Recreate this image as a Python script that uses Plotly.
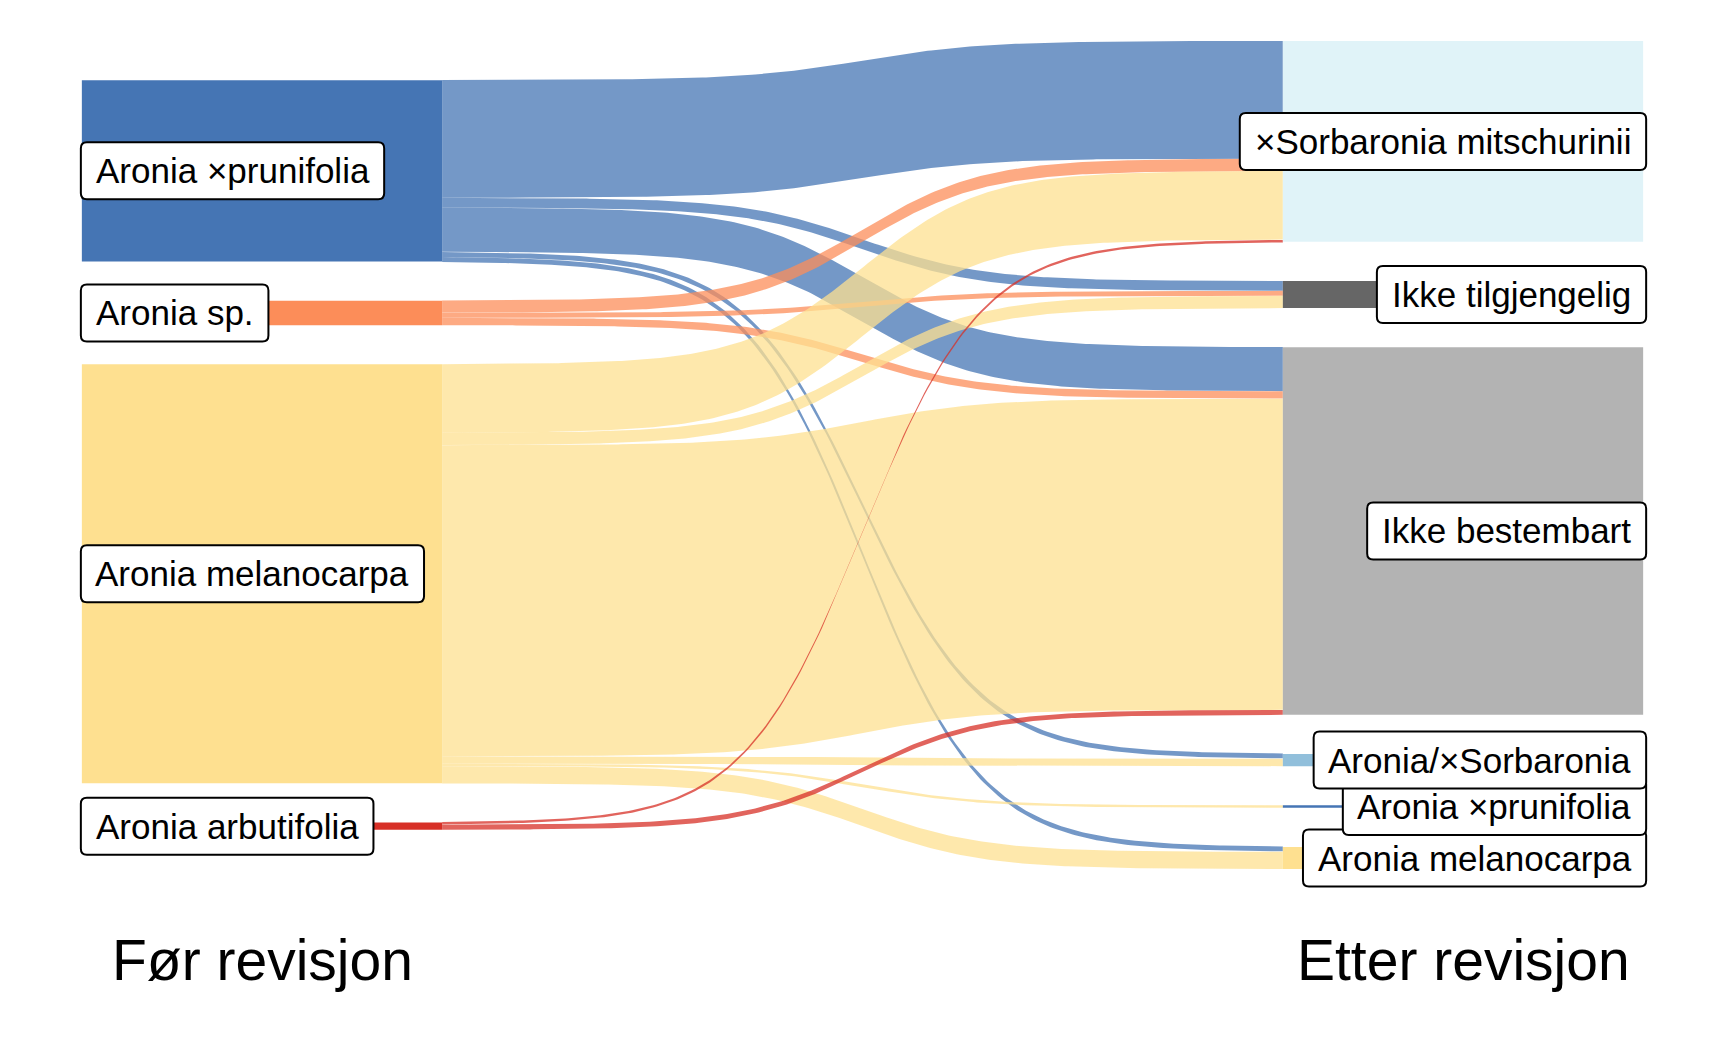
import numpy as np
import plotly.graph_objects as go

# ---------------- data ----------------
before_levels = ["Aronia ×prunifolia", "Aronia sp.", "Aronia melanocarpa", "Aronia arbutifolia"]
after_levels = ["×Sorbaronia mitschurinii", "Ikke tilgjengelig", "Ikke bestembart",
                "Aronia/×Sorbaronia", "Aronia ×prunifolia", "Aronia melanocarpa"]
before_colors = ["#4575b4", "#fc8d59", "#fee090", "#d73027"]
after_colors = ["#e0f3f8", "#666666", "#b3b3b3", "#91bfdb", "#4575b4", "#fee090"]

flow_from = ["Aronia ×prunifolia"] * 5 + ["Aronia sp."] * 3 + ["Aronia melanocarpa"] * 6 + ["Aronia arbutifolia"] * 2
flow_to = ["×Sorbaronia mitschurinii", "Ikke tilgjengelig", "Ikke bestembart", "Aronia/×Sorbaronia", "Aronia melanocarpa",
           "×Sorbaronia mitschurinii", "Ikke tilgjengelig", "Ikke bestembart",
           "×Sorbaronia mitschurinii", "Ikke tilgjengelig", "Ikke bestembart", "Aronia/×Sorbaronia", "Aronia ×prunifolia", "Aronia melanocarpa",
           "×Sorbaronia mitschurinii", "Ikke bestembart"]
flow_n = [48, 4, 18, 2, 2,
          5, 2, 3,
          28, 5, 127, 3, 1, 7,
          1, 2]

axis_labels = ["Før revisjon", "Etter revisjon"]

# ---------------- layout constants ----------------
PAGE_OFFSET = 8          # default body margin of the html page
W_PX, H_PX = 1712 - PAGE_OFFSET, 1062 - PAGE_OFFSET
PX_PER_COUNT = 2.45
PX_PER_X = 1201.0
X_CENTER_PX = 262.0 - PAGE_OFFSET
Y_CENTER_PX = 455.0 - PAGE_OFFSET
AXIS_LABEL_PX = 960.0 - PAGE_OFFSET
GAP = 16.0
NODE_W = 0.30
SMOOTH = 7
FLOW_ALPHA = 0.75
FONT = "Liberation Sans, Arial, sans-serif"
LABEL_SIZE = 35
AXIS_SIZE = 57

x_range = [1 - X_CENTER_PX / PX_PER_X, 1 + (W_PX - X_CENTER_PX) / PX_PER_X]
y_range = [-(H_PX - Y_CENTER_PX) / PX_PER_COUNT, Y_CENTER_PX / PX_PER_COUNT]


def hex_rgba(h, a):
    h = h.lstrip("#")
    return "rgba(%d,%d,%d,%.3f)" % (int(h[0:2], 16), int(h[2:4], 16), int(h[4:6], 16), a)


def stack(levels, totals):
    T = sum(totals[k] for k in levels) + GAP * (len(levels) - 1)
    top = T / 2.0
    pos = {}
    for lev in levels:
        hi = top
        lo = top - totals[lev]
        pos[lev] = [hi, lo]
        top = lo - GAP
    return pos


bi = {k: i for i, k in enumerate(before_levels)}
ai = {k: i for i, k in enumerate(after_levels)}
tot_b = {k: 0 for k in before_levels}
tot_a = {k: 0 for k in after_levels}
for f, t, n in zip(flow_from, flow_to, flow_n):
    tot_b[f] += n
    tot_a[t] += n
pos_b = stack(before_levels, tot_b)
pos_a = stack(after_levels, tot_a)

idx = list(range(len(flow_n)))
src_int = {}
cur = {k: pos_b[k][0] for k in before_levels}
for i in sorted(idx, key=lambda i: (bi[flow_from[i]], ai[flow_to[i]])):
    hi = cur[flow_from[i]]
    src_int[i] = (hi, hi - flow_n[i])
    cur[flow_from[i]] = hi - flow_n[i]
dst_int = {}
cur = {k: pos_a[k][0] for k in after_levels}
for i in sorted(idx, key=lambda i: (ai[flow_to[i]], bi[flow_from[i]])):
    hi = cur[flow_to[i]]
    dst_int[i] = (hi, hi - flow_n[i])
    cur[flow_to[i]] = hi - flow_n[i]

s = np.linspace(-SMOOTH, SMOOTH, 240)
frac_x = (s + SMOOTH) / (2 * SMOOTH)
frac_y = np.exp(s) / (np.exp(s) + 1)
x_from = 1 + NODE_W / 2
x_to = 2 - NODE_W / 2
xs = x_from + frac_x * (x_to - x_from)

fig = go.Figure()

for i in sorted(idx, key=lambda i: (bi[flow_from[i]], ai[flow_to[i]])):
    (s_hi, s_lo), (d_hi, d_lo) = src_int[i], dst_int[i]
    top = s_hi + frac_y * (d_hi - s_hi)
    bot = s_lo + frac_y * (d_lo - s_lo)
    fig.add_trace(go.Scatter(
        x=np.concatenate([xs, xs[::-1]]),
        y=np.concatenate([top, bot[::-1]]),
        fill="toself", mode="lines", line=dict(width=0),
        fillcolor=hex_rgba(before_colors[bi[flow_from[i]]], FLOW_ALPHA),
        hoverinfo="skip", showlegend=False))

shapes = []
for lev, col in zip(before_levels, before_colors):
    hi, lo = pos_b[lev]
    shapes.append(dict(type="rect", xref="x", yref="y", x0=1 - NODE_W / 2, x1=1 + NODE_W / 2,
                       y0=lo, y1=hi, fillcolor=col, line=dict(width=0), layer="above"))
for lev, col in zip(after_levels, after_colors):
    hi, lo = pos_a[lev]
    shapes.append(dict(type="rect", xref="x", yref="y", x0=2 - NODE_W / 2, x1=2 + NODE_W / 2,
                       y0=lo, y1=hi, fillcolor=col, line=dict(width=0), layer="above"))

# Arial / Liberation Sans advance widths (per 1 em)
CW = {"A": .667, "E": .667, "F": .611, "I": .278, "S": .667, "a": .556, "b": .556, "c": .5,
      "e": .556, "f": .278, "g": .556, "h": .556, "i": .222, "j": .222, "k": .5, "l": .222,
      "m": .833, "n": .556, "o": .556, "p": .556, "r": .333, "s": .5, "t": .278, "u": .556,
      "v": .5, " ": .278, ".": .278, "/": .278, "×": .584, "ø": .611}


def text_w(t, size):
    return sum(CW.get(c, .556) for c in t) * size


def rrect(hw, hh, r):
    return ("M %f,%f L %f,%f Q %f,%f %f,%f L %f,%f Q %f,%f %f,%f L %f,%f Q %f,%f %f,%f "
            "L %f,%f Q %f,%f %f,%f Z" % (
                -hw + r, -hh, hw - r, -hh, hw, -hh, hw, -hh + r,
                hw, hh - r, hw, hh, hw - r, hh,
                -hw + r, hh, -hw, hh, -hw, hh - r,
                -hw, -hh + r, -hw, -hh, -hw + r, -hh))


PAD_X = 15
BOX_H = 57
annotations = []
label_items = []
for lev in before_levels:
    hi, lo = pos_b[lev]
    bw = text_w(lev, LABEL_SIZE) + 2 * PAD_X
    cx = (1 - NODE_W / 2) + (bw / 2 - 1) / PX_PER_X
    label_items.append((lev, cx, (hi + lo) / 2, bw))
for lev in after_levels:
    hi, lo = pos_a[lev]
    bw = text_w(lev, LABEL_SIZE) + 2 * PAD_X
    cx = (2 + NODE_W / 2) + (3 - bw / 2) / PX_PER_X
    label_items.append((lev, cx, (hi + lo) / 2, bw))

# draw lower labels first so upper boxes sit on top
for lev, cx, cy, bw in sorted(label_items, key=lambda t: t[2]):
    shapes.append(dict(type="path", xref="x", yref="y", xsizemode="pixel", ysizemode="pixel",
                       xanchor=cx, yanchor=cy, path=rrect(bw / 2, BOX_H / 2, 6),
                       fillcolor="white", line=dict(color="black", width=2), layer="above"))
for lev, cx, cy, bw in label_items:
    annotations.append(dict(x=cx, y=cy, xref="x", yref="y", text=lev, showarrow=False,
                            xanchor="center", yanchor="middle",
                            font=dict(family=FONT, size=LABEL_SIZE, color="black")))

axis_y = (Y_CENTER_PX - AXIS_LABEL_PX) / PX_PER_COUNT
for k, lab in enumerate(axis_labels):
    annotations.append(dict(x=1 + k, y=axis_y, xref="x", yref="y", text=lab, showarrow=False,
                            xanchor="center", yanchor="middle",
                            font=dict(family=FONT, size=AXIS_SIZE, color="black")))

fig.update_layout(
    width=W_PX, height=H_PX, margin=dict(l=0, r=0, t=0, b=0),
    paper_bgcolor="white", plot_bgcolor="white", showlegend=False,
    xaxis=dict(range=x_range, visible=False, fixedrange=True),
    yaxis=dict(range=y_range, visible=False, fixedrange=True),
    shapes=shapes, annotations=annotations)

fig.write_html("out.html")
